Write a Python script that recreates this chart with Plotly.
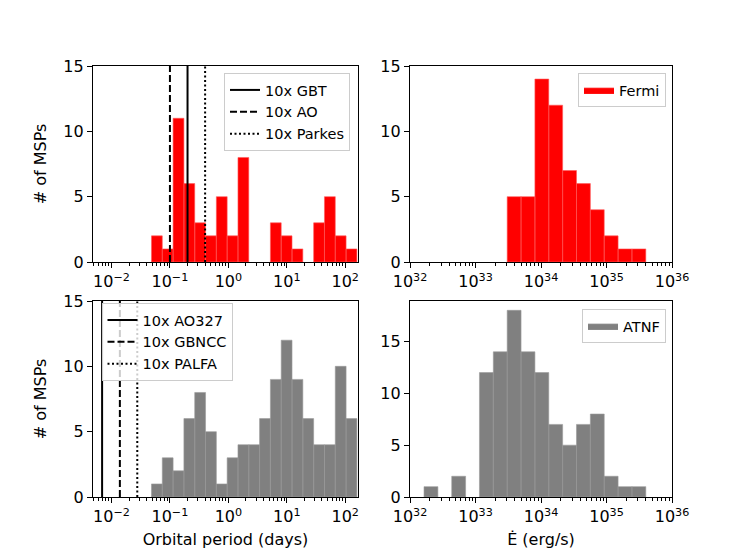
import numpy as np
import plotly.graph_objects as go

# ---------------- data ----------------
# orbital period histogram (log-spaced bins, days)
period_edges = np.logspace(-1.316, 2.2, 20)
fermi_period_counts = [2, 1, 11, 6, 3, 2, 5, 2, 8, 0, 0, 3, 2, 1, 0, 3, 5, 2, 1]
atnf_period_counts = [1, 3, 2, 6, 8, 5, 1, 3, 4, 4, 6, 9, 12, 9, 6, 4, 4, 10, 6]

# spin-down power histogram (log-spaced bins, erg/s)
edot_edges = np.logspace(32.214, 35.6, 17)
atnf_edot_counts = [1, 0, 2, 0, 12, 14, 18, 14, 12, 7, 5, 7, 8, 2, 1, 1]
fermi_edot_counts = [0, 0, 0, 0, 0, 0, 5, 5, 14, 12, 7, 6, 4, 2, 1, 1]

# sensitivity lines (days)
top_line_names = ["10x GBT", "10x AO", "10x Parkes"]
top_line_values = [0.2, 0.1, 0.4]
bottom_line_names = ["10x AO327", "10x GBNCC", "10x PALFA"]
bottom_line_values = [0.0069, 0.0139, 0.0276]
line_dashes = ["solid", "7px,3px", "2px,2.5px"]

# ---------------- layout geometry ----------------
# page body has an 8px margin; figure is offset by it
OFF = 8
W, H = 747 - OFF, 559 - OFF
L, R, T, B = 93 - OFF, 747 - 672, 66 - OFF, 559 - 497
PW, PH = W - L - R, H - T - B
def px(x):
    return (x - OFF - L) / PW
def py(y):
    return (H - B - (y - OFF)) / PH

FONT = "DejaVu Sans"
fig = go.Figure()


def bars(edges, counts, xa, ya, color, edge, name=None, legend=None):
    xs, ys = [], []
    for i, c in enumerate(counts):
        if c <= 0:
            continue
        e0, e1 = edges[i], edges[i + 1]
        xs += [e0, e0, e1, e1, e0, None]
        ys += [0, c, c, 0, 0, None]
    fig.add_trace(go.Scatter(
        x=xs, y=ys, xaxis=xa, yaxis=ya, mode="lines", fill="toself",
        fillcolor=color, line=dict(color=edge, width=0.6),
        name=name, showlegend=name is not None, legend=legend,
        hoverinfo="skip"))


bars(period_edges, fermi_period_counts, "x", "y", "#ff0000", "#ff5a5a")
bars(period_edges, atnf_period_counts, "x3", "y3", "#808080", "#9a9a9a")
bars(edot_edges, fermi_edot_counts, "x2", "y2", "#ff0000", "#ff5a5a",
     name="Fermi", legend="legend2")
bars(edot_edges, atnf_edot_counts, "x4", "y4", "#808080", "#9a9a9a",
     name="ATNF", legend="legend4")

for n, v, d in zip(top_line_names, top_line_values, line_dashes):
    fig.add_trace(go.Scatter(x=[v, v], y=[0, 15], xaxis="x", yaxis="y",
                             mode="lines", name=n, legend="legend",
                             line=dict(color="black", width=2, dash=d)))
for n, v, d in zip(bottom_line_names, bottom_line_values, line_dashes):
    fig.add_trace(go.Scatter(x=[v, v], y=[0, 15], xaxis="x3", yaxis="y3",
                             mode="lines", name=n, legend="legend3",
                             line=dict(color="black", width=2, dash=d)))


def sup(e):
    s = str(e).replace("-", "\u2212")
    return f"10<sup>{s}</sup>"


def minor_vals(lo, hi):
    out = []
    for e in range(lo, hi):
        for m in range(2, 10):
            out.append(m * 10.0 ** e)
    return out


tickfont = dict(family=FONT, size=16, color="black")
common_ax = dict(showline=True, linecolor="black", linewidth=1.2, mirror=True,
                 ticks="outside", ticklen=5, tickwidth=1.2, tickcolor="black",
                 showgrid=False, zeroline=False, tickfont=tickfont)

left_dom = [0, px(358)]
right_dom = [px(410), 1]
top_dom = [py(262), 1]
bot_dom = [0, py(301)]

per_ticks = [1e-2, 1e-1, 1, 10, 100]
per_text = [sup(e) for e in [-2, -1, 0, 1, 2]]
edot_ticks = [1e32, 1e33, 1e34, 1e35, 1e36]
edot_text = [sup(e) for e in [32, 33, 34, 35, 36]]

per_x = dict(type="log", range=[-2.317, 2.219], tickmode="array",
             tickvals=per_ticks, ticktext=per_text,
             minor=dict(tickmode="array", tickvals=minor_vals(-3, 3),
                        ticks="outside", ticklen=3, tickcolor="black",
                        tickwidth=1, showgrid=False), **common_ax)
edot_x = dict(type="log", range=[32, 36], tickmode="array",
              tickvals=edot_ticks, ticktext=edot_text,
              minor=dict(tickmode="array", tickvals=minor_vals(32, 36),
                         ticks="outside", ticklen=3, tickcolor="black",
                         tickwidth=1, showgrid=False), **common_ax)
yticks = dict(tickmode="array", tickvals=[0, 5, 10, 15])

title_font = dict(family=FONT, size=16, color="black")

fig.update_layout(
    width=W, height=H,
    margin=dict(l=L, r=R, t=T, b=B),
    paper_bgcolor="white", plot_bgcolor="white",
    font=dict(family=FONT, size=16, color="black"),
    xaxis=dict(domain=left_dom, anchor="y", **per_x),
    yaxis=dict(domain=top_dom, anchor="x", range=[0, 15],
               title=dict(text="# of MSPs", font=title_font, standoff=12),
               **yticks, **common_ax),
    xaxis2=dict(domain=right_dom, anchor="y2", **edot_x),
    yaxis2=dict(domain=top_dom, anchor="x2", range=[0, 15], **yticks, **common_ax),
    xaxis3=dict(domain=left_dom, anchor="y3",
                title=dict(text="Orbital period (days)", font=title_font, standoff=8),
                **per_x),
    yaxis3=dict(domain=bot_dom, anchor="x3", range=[0, 15],
                title=dict(text="# of MSPs", font=title_font, standoff=12),
                **yticks, **common_ax),
    xaxis4=dict(domain=right_dom, anchor="y4",
                title=dict(text="\u0116 (erg/s)", font=title_font, standoff=8),
                **edot_x),
    yaxis4=dict(domain=bot_dom, anchor="x4", range=[0, 18.9], **yticks, **common_ax),
)

legend_common = dict(bgcolor="rgba(255,255,255,0.8)", bordercolor="#cccccc",
                     borderwidth=1, font=dict(family=FONT, size=14.5, color="black"),
                     xref="paper", yref="paper", tracegroupgap=0, itemwidth=30)
fig.update_layout(
    legend=dict(x=px(350), y=py(73), xanchor="right", yanchor="top", **legend_common),
    legend2=dict(x=px(666), y=py(73), xanchor="right", yanchor="top", **legend_common),
    legend3=dict(x=px(101.5), y=py(303), xanchor="left", yanchor="top", **legend_common),
    legend4=dict(x=px(666), y=py(309), xanchor="right", yanchor="top", **legend_common),
)

fig.write_html("out.html")
